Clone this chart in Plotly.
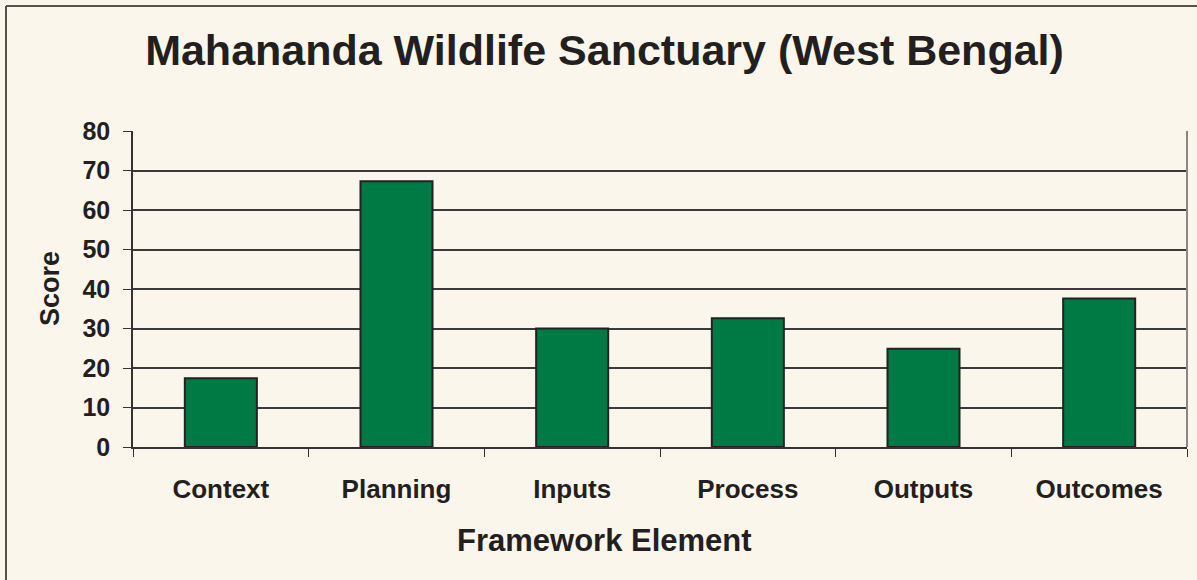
import plotly.graph_objects as go

categories = ["Context", "Planning", "Inputs", "Process", "Outputs", "Outcomes"]
scores = [17.4, 67.3, 30.0, 32.6, 24.9, 37.6]
y_ticks = [0, 10, 20, 30, 40, 50, 60, 70, 80]

BG = "#FAF6EC"
TXT = "#231F20"
FONT = "Liberation Sans, Arial, sans-serif"

W, H = 1197, 580
L, R, T, B = 133, 10, 131, 133
pw, ph = W - L - R, H - T - B

fig = go.Figure(go.Bar(
    x=categories, y=scores, width=0.41,
    marker=dict(color="#007A45", line=dict(color="#222222", width=2)),
))

top_y = 1 + (T - 6) / ph
left_x = (6 - L) / pw

fig.update_layout(
    width=W, height=H,
    margin=dict(l=L, r=R, t=T, b=B),
    paper_bgcolor=BG, plot_bgcolor=BG,
    font=dict(family=FONT, color=TXT),
    showlegend=False,
    title=dict(text="<b>Mahananda Wildlife Sanctuary (West Bengal)</b>",
               font=dict(size=43, color=TXT, family=FONT),
               x=0.505, xref="container", xanchor="center",
               y=1 - 50 / H, yref="container", yanchor="middle"),
    xaxis=dict(
        type="category", tickson="boundaries",
        ticks="outside", ticklen=8, tickcolor="#333", tickwidth=1,
        showline=True, linecolor="#333", linewidth=1.5,
        tickfont=dict(size=26, color=TXT, family=FONT, weight="bold"),
        showgrid=False, ticklabelstandoff=18,
    ),
    yaxis=dict(
        range=[0, 80], tickvals=y_ticks,
        ticks="outside", ticklen=8, tickcolor="#333", tickwidth=1,
        showline=True, linecolor="#333", linewidth=1.5,
        gridcolor="#3a3a3a", gridwidth=1.5, zeroline=False,
        tickfont=dict(size=25, color=TXT, family=FONT, weight="bold"),
        ticklabelstandoff=8,
    ),
    shapes=[
        dict(type="line", xref="paper", yref="paper", x0=1, x1=1, y0=0, y1=1,
             line=dict(color="#8a8680", width=2)),
        dict(type="line", xref="paper", yref="paper",
             x0=left_x, x1=left_x, y0=top_y, y1=-B / ph,
             line=dict(color="#55524d", width=2)),
        dict(type="line", xref="paper", yref="paper",
             x0=left_x, x1=(W - L) / pw, y0=top_y, y1=top_y,
             line=dict(color="#55524d", width=2)),
    ],
    annotations=[
        dict(text="<b>Score</b>", xref="paper", yref="paper",
             x=(50 - L) / pw, y=(H - B - 289) / ph, textangle=-90,
             showarrow=False, font=dict(size=27, color=TXT, family=FONT),
             xanchor="center", yanchor="middle"),
        dict(text="<b>Framework Element</b>", xref="paper", yref="paper",
             x=(604 - L) / pw, y=-(540 - (H - B)) / ph,
             showarrow=False, font=dict(size=31, color=TXT, family=FONT),
             xanchor="center", yanchor="middle"),
    ],
)

fig.write_html("out.html",
               config={"displayModeBar": False},
               post_script="document.body.style.margin='0';document.body.style.overflow='hidden';")
